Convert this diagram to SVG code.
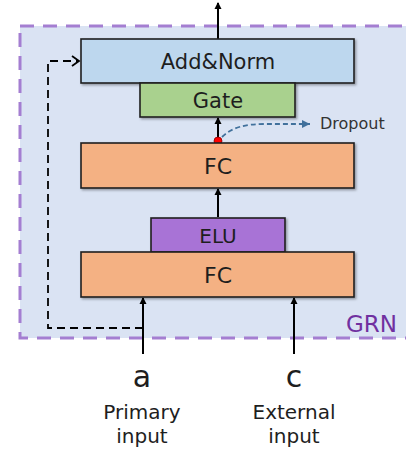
<svg xmlns="http://www.w3.org/2000/svg" width="406" height="456" viewBox="0 0 406 456">
<style>
.box{stroke:#1e1e1e;stroke-width:1.6;filter:url(#sh)}
.lbl{font-family:"DejaVu Sans",sans-serif;fill:#1e1e1e;text-anchor:middle}
.arr{stroke:#000;stroke-width:2;fill:none;marker-end:url(#ah)}
</style>
<defs>
<filter id="sh" x="-10%" y="-20%" width="130%" height="150%">
<feDropShadow dx="1.5" dy="1.5" stdDeviation="1" flood-color="#000" flood-opacity="0.35"/>
</filter>
<marker id="ah" markerWidth="8" markerHeight="8" refX="6" refY="4" orient="auto" markerUnits="userSpaceOnUse">
<path d="M0,0.5 L7,4 L0,7.5 Z" fill="#000"/>
</marker>
<marker id="oh" markerWidth="12" markerHeight="12" refX="9" refY="6" orient="auto" markerUnits="userSpaceOnUse">
<path d="M2,1 L9,6 L2,11" fill="none" stroke="#000" stroke-width="1.8"/>
</marker>
<marker id="bh" markerWidth="10" markerHeight="10" refX="8" refY="5" orient="auto" markerUnits="userSpaceOnUse">
<path d="M0,1 L8,5 L0,9 Z" fill="#41719c"/>
</marker>
</defs>
<g id="grn">
<rect x="20" y="26" width="400" height="312" fill="#dae3f3" stroke="#a47ed1" stroke-width="3" stroke-dasharray="14 9"/>
<text x="346" y="332" font-family="DejaVu Sans,sans-serif" font-size="23" fill="#7030a0">GRN</text>
</g>
<g id="connectors">
<line class="arr" x1="218" y1="39" x2="218" y2="3"/>
<line class="arr" x1="218" y1="140" x2="218" y2="118"/>
<line class="arr" x1="218" y1="217" x2="218" y2="189"/>
<line class="arr" x1="143" y1="354" x2="143" y2="298"/>
<line class="arr" x1="294" y1="354" x2="294" y2="298"/>
<path d="M143,328 L48,328 L48,61 L79,61" fill="none" stroke="#000" stroke-width="1.8" stroke-dasharray="8 5" marker-end="url(#oh)"/>
<path d="M222,137 C232,127 246,124 265,124 L310,124" fill="none" stroke="#41719c" stroke-width="1.8" stroke-dasharray="5 3" marker-end="url(#bh)"/>
<circle cx="218" cy="141" r="4" fill="#ff0000" stroke="#8b0000" stroke-width="0.8"/>
</g>
<g id="add-norm">
<rect class="box" x="81" y="39" width="273" height="44" fill="#bdd7ee"/>
<text class="lbl" x="218" y="69" font-size="21">Add&amp;Norm</text>
</g>
<g id="gate">
<rect class="box" x="140" y="83" width="155" height="34" fill="#a9d18e"/>
<text class="lbl" x="218" y="108" font-size="21">Gate</text>
</g>
<g id="fc-top">
<rect class="box" x="81" y="143" width="273" height="45" fill="#f4b183"/>
<text class="lbl" x="218" y="174" font-size="22">FC</text>
</g>
<g id="elu">
<rect class="box" x="151" y="218" width="134" height="34" fill="#a873d6"/>
<text class="lbl" x="218" y="243" font-size="20">ELU</text>
</g>
<g id="fc-bottom">
<rect class="box" x="81" y="252" width="273" height="45" fill="#f4b183"/>
<text class="lbl" x="218" y="283" font-size="22">FC</text>
</g>
<g id="dropout-label">
<text x="320" y="129" font-family="DejaVu Sans,sans-serif" font-size="16" fill="#333">Dropout</text>
</g>
<g id="input-a">
<text class="lbl" x="142" y="387" font-size="30">a</text>
<text class="lbl" x="142" y="419" font-size="20">Primary</text>
<text class="lbl" x="142" y="443" font-size="20">input</text>
</g>
<g id="input-c">
<text class="lbl" x="294" y="387" font-size="30">c</text>
<text class="lbl" x="294" y="419" font-size="20">External</text>
<text class="lbl" x="294" y="443" font-size="20">input</text>
</g>
</svg>
